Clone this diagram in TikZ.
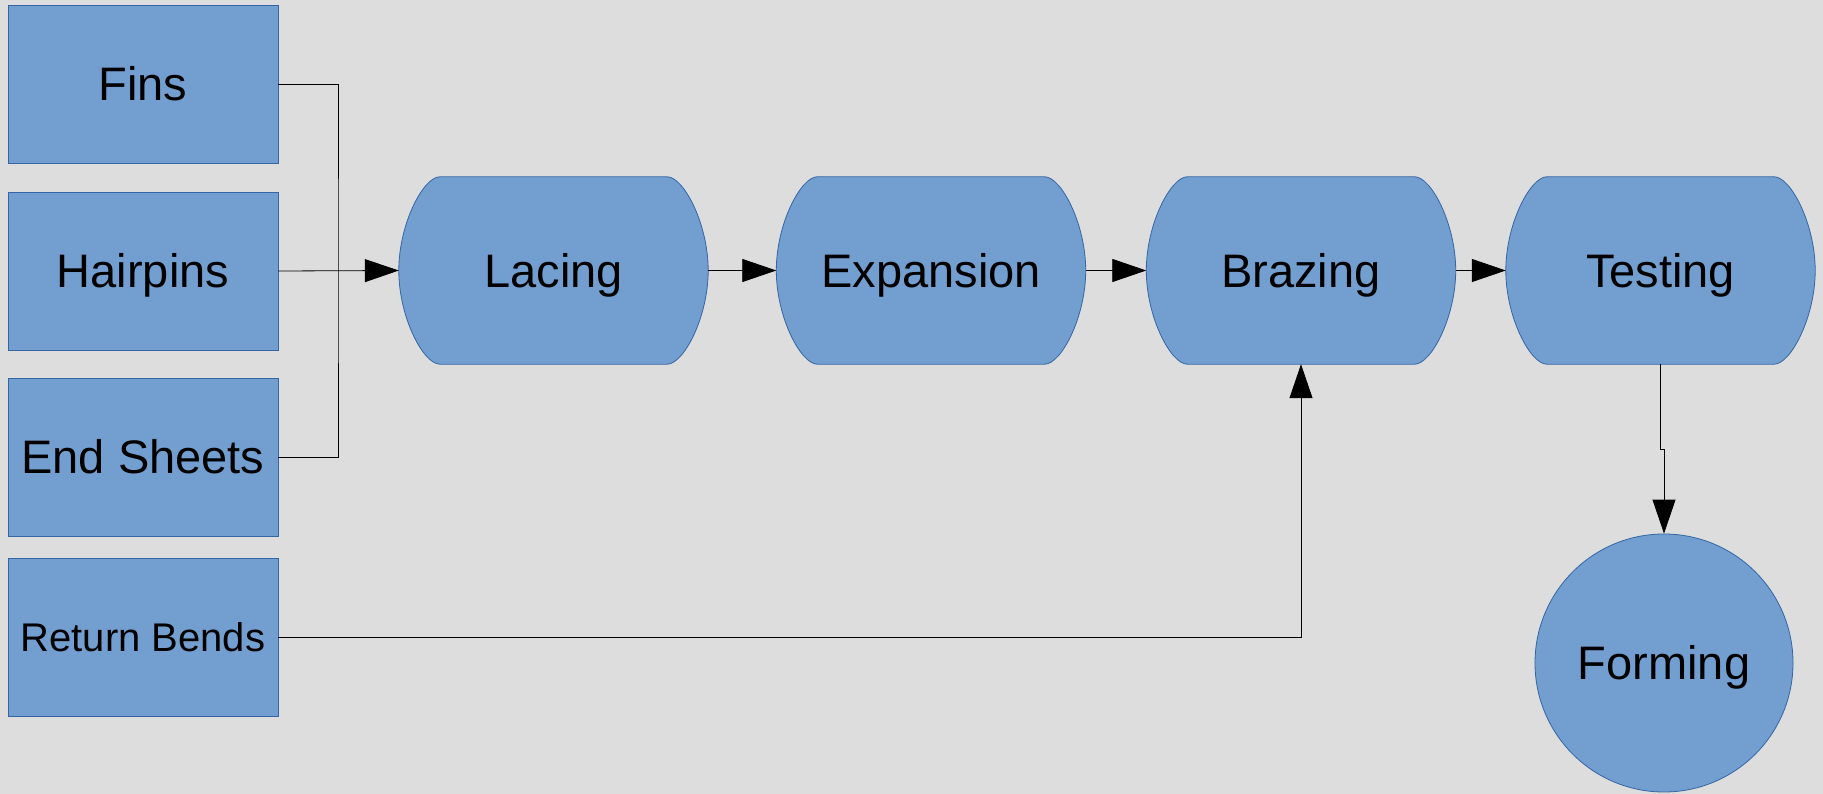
\documentclass[tikz,border=0pt]{standalone}
\usepackage{fontspec}
\setmainfont{Liberation Sans}
\usetikzlibrary{arrows.meta}
\usetikzlibrary{positioning}
\definecolor{boxfill}{HTML}{729FCF}
\definecolor{boxline}{HTML}{3465A4}
\definecolor{paper}{HTML}{DDDDDD}
\pgfdeclarelayer{back}
\pgfsetlayers{back,main}
\tikzset{
    bigtext/.style={font=\fontsize{47}{56}\selectfont, text height=33.6pt, text depth=0pt},
    part/.style={bigtext, draw=boxline, fill=boxfill, line width=0.8pt,
        minimum width=270pt, minimum height=158pt, inner sep=0pt},
    process/.style={bigtext, minimum width=309pt, minimum height=187pt, inner sep=0pt},
    finish/.style={bigtext, circle, draw=boxline, fill=boxfill, line width=0.8pt,
        minimum size=258pt, inner sep=0pt},
    link/.style={draw=black, line width=0.8pt},
    flow/.style={link, -{Triangle[length=34pt,width=23pt]}},
}
% flat top and bottom, bulging ends
\newcommand{\procoutline}[1]{%
    \path[draw=boxline, fill=boxfill, line width=0.8pt]
        ([xshift=41pt]#1.north west) -- ([xshift=-41pt]#1.north east)
        .. controls ([xshift=-24.6pt]#1.north east) and ([yshift=46.75pt]#1.east) .. (#1.east)
        .. controls ([yshift=-46.75pt]#1.east) and ([xshift=-24.6pt]#1.south east) .. ([xshift=-41pt]#1.south east)
        -- ([xshift=41pt]#1.south west)
        .. controls ([xshift=24.6pt]#1.south west) and ([yshift=-46.75pt]#1.west) .. (#1.west)
        .. controls ([yshift=46.75pt]#1.west) and ([xshift=24.6pt]#1.north west) .. cycle;}

\begin{document}
\begin{tikzpicture}[x=1pt, y=-1pt]
    \useasboundingbox (0,0) rectangle (1823,794);

    \node[part] (fins) at (143,84) {Fins};
    \node[part] (hairpins) at (143,271) {Hairpins};
    \node[part] (endsheets) at (143,457) {End Sheets};
    \node[part, font=\fontsize{40}{48}\selectfont, text height=28.6pt] (retbends) at (143,637) {Return Bends};

    \node[process] (lacing) at (553.5,270.5) {Lacing};
    \node[process] (expansion) at (931,270.5) {Expansion};
    \node[process] (brazing) at (1301,270.5) {Brazing};
    \node[process] (testing) at (1660.5,270.5) {Testing};
    \node[finish] (forming) at (1664,663) {Forming};

    \begin{pgfonlayer}{back}
        \fill[paper] (0,0) rectangle (1823,794);
        \foreach \n in {lacing,expansion,brazing,testing}
            \procoutline{\n};
    \end{pgfonlayer}

    \coordinate (bus) at (338,271);
    \draw[link] (fins.east) -| (bus) |- (endsheets.east);
    \draw[flow] (hairpins.east) -- (lacing.west);
    \draw[flow] (lacing.east) -- (expansion.west);
    \draw[flow] (expansion.east) -- (brazing.west);
    \draw[flow] (brazing.east) -- (testing.west);
    \draw[flow] (retbends.east) -| (brazing.south);
    \draw[flow] (testing.south) -- ++(0,85) -| (forming.north);
\end{tikzpicture}
\end{document}
